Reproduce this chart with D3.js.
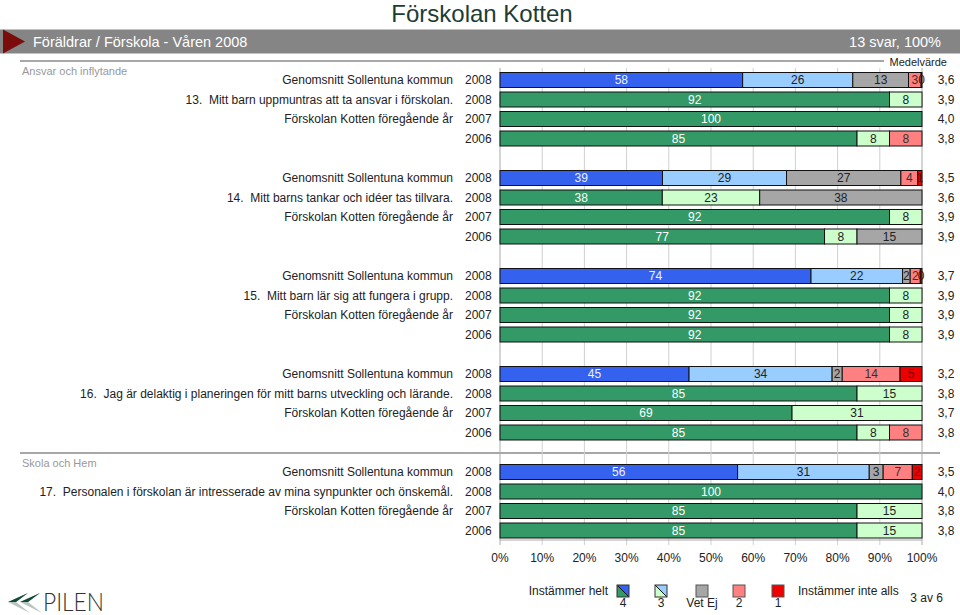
<!DOCTYPE html>
<html><head><meta charset="utf-8">
<script src="https://cdn.jsdelivr.net/npm/d3@7"></script>
<style>
html,body{margin:0;padding:0;background:#fff;}
svg{display:block;font-family:"Liberation Sans",Arial,Helvetica,sans-serif;}
</style></head>
<body>
<svg id="c" width="960" height="615"></svg>
<script>
// ---- data ----
const questions = [
  "13.  Mitt barn uppmuntras att ta ansvar i förskolan.",
  "14.  Mitt barns tankar och idéer tas tillvara.",
  "15.  Mitt barn lär sig att fungera i grupp.",
  "16.  Jag är delaktig i planeringen för mitt barns utveckling och lärande.",
  "17.  Personalen i förskolan är intresserade av mina synpunkter och önskemål."
];
const sectionHeads = ["Ansvar och inflytande", null, null, null, "Skola och Hem"];
const categories = ["4", "3", "Vet Ej", "2", "1"];
const rowLabels = ["Genomsnitt Sollentuna kommun", null, "Förskolan Kotten föregående år", null];
const rowYears = ["2008", "2008", "2007", "2006"];
// values per question, per category [4, 3, Vet Ej, 2, 1] in %
const sollentuna2008 = [[57.5,26.1,13.2,3.0,0.2],[38.5,29.4,27.1,4.0,1.0],[73.7,21.7,1.8,2.4,0.4],[44.8,33.9,2.4,13.7,5.2],[56.3,31.2,3.3,6.9,2.3]];
const kotten2008 = [[92.3,7.7,0,0,0],[38.46,23.08,38.46,0,0],[92.3,7.7,0,0,0],[84.6,15.4,0,0,0],[100,0,0,0,0]];
const kotten2007 = [[100,0,0,0,0],[92.3,7.7,0,0,0],[92.3,7.7,0,0,0],[69.2,30.8,0,0,0],[84.6,15.4,0,0,0]];
const kotten2006 = [[84.6,7.7,0,7.7,0],[76.9,7.7,15.4,0,0],[92.3,7.7,0,0,0],[84.6,7.7,0,7.7,0],[84.6,15.4,0,0,0]];
const meanSollentuna = [3.6,3.5,3.7,3.2,3.5];
const mean2008 = [3.9,3.6,3.9,3.8,4.0];
const mean2007 = [4.0,3.9,3.9,3.7,3.8];
const mean2006 = [3.8,3.9,3.9,3.8,3.8];
const xTicks = [0,10,20,30,40,50,60,70,80,90,100];

// ---- styles ----
const colSoll = ["#3462ee","#99ccff","#a6a6a6","#ff8080","#ee0000"];
const colKott = ["#339966","#ccffcc","#a6a6a6","#ff8080","#ee0000"];
const txtSoll = ["#f0f0ff","#222","#222","#333","#600"];
const txtKott = ["#ffffff","#222","#222","#333","#600"];

const svg = d3.select("#c");
const fmt = v => d3.format(".1f")(v).replace(".", ",");

// header
svg.append("text").attr("x",482).attr("y",22).attr("text-anchor","middle")
  .attr("font-size",24).attr("fill","#1d3d33").text("Förskolan Kotten");
svg.append("rect").attr("x",0).attr("y",29.5).attr("width",960).attr("height",24).attr("fill","#858585");
svg.append("path").attr("d","M3,29.5 L25,41.5 L3,53.5 Z").attr("fill","#7a0c0c");
svg.append("text").attr("x",33).attr("y",46.5).attr("font-size",14.5).attr("fill","#fff").text("Föräldrar / Förskola - Våren 2008");
svg.append("text").attr("x",941).attr("y",46.5).attr("text-anchor","end").attr("font-size",14.5).attr("fill","#fff").text("13 svar, 100%");

// scales
const x = d3.scaleLinear().domain([0,100]).range([500,922]);
const secY = d3.scaleBand().domain(d3.range(questions.length)).range([70.25, 70.25 + 98*questions.length]);
const rowY = d3.scaleBand().domain(d3.range(4)).range([0,78]).paddingInner(0.2308).paddingOuter(0.1154);

// separators
svg.append("line").attr("x1",20).attr("x2",884).attr("y1",61).attr("y2",61).attr("stroke","#8a8a8a").attr("stroke-width",1.5);
svg.append("text").attr("x",947).attr("y",66).attr("text-anchor","end").attr("font-size",11).attr("fill","#222").text("Medelvärde");
svg.append("line").attr("x1",20).attr("x2",940).attr("y1",453).attr("y2",453).attr("stroke","#8a8a8a").attr("stroke-width",1.5);

// grid
const gTop = 68, gBot = 540;
svg.append("g").selectAll("line").data(xTicks).join("line")
  .attr("x1",d=>x(d)).attr("x2",d=>x(d)).attr("y1",gTop).attr("y2",gBot+5)
  .attr("stroke",d=> (d===0||d===100)?"#aaa":"#d0d0d0").attr("stroke-width",1);
svg.append("line").attr("x1",x(0)).attr("x2",x(100)).attr("y1",gBot).attr("y2",gBot).attr("stroke","#aaa");
svg.append("g").selectAll("text").data(xTicks).join("text")
  .attr("x",d=>x(d)).attr("y",562).attr("text-anchor","middle").attr("font-size",12).attr("fill","#222")
  .text(d=>d+"%");

// section heads
sectionHeads.forEach((h,i)=>{
  if(!h) return;
  svg.append("text").attr("x",22).attr("y", i===0?75:467).attr("font-size",11).attr("fill","#999").text(h);
});

const rowsData = [sollentuna2008, kotten2008, kotten2007, kotten2006];
const meansData = [meanSollentuna, mean2008, mean2007, mean2006];

questions.forEach((q,qi)=>{
  const g = svg.append("g");
  for(let r=0;r<4;r++){
    const top = secY(qi) + rowY(r);
    const h = rowY.bandwidth();
    const cy = top + h/2;
    const label = r===1 ? q : rowLabels[r];
    if(label){
      g.append("text").attr("x",453).attr("y",cy+4.3).attr("text-anchor","end")
        .attr("font-size",12).attr("fill","#222").style("white-space","pre").text(label);
    }
    g.append("text").attr("x",465).attr("y",cy+4.3).attr("font-size",12).attr("fill","#222").text(rowYears[r]);
    const vals = rowsData[r][qi];
    const cols = r===0 ? colSoll : colKott;
    const tcols = r===0 ? txtSoll : txtKott;
    let cum = 0;
    const segs = vals.map((v,ci)=>{ const s={v, ci, x0:cum, x1:cum+v}; cum+=v; return s; }).filter(s=>s.v>0);
    g.selectAll(null).data(segs).join("rect")
      .attr("x",s=>x(s.x0)).attr("y",top).attr("width",s=>x(s.x1)-x(s.x0)).attr("height",h)
      .attr("fill",s=>cols[s.ci]).attr("stroke","#111").attr("stroke-width",1);
    g.selectAll(null).data(segs).join("text")
      .attr("x",s=>(x(s.x0)+x(s.x1))/2).attr("y",cy+4.3).attr("text-anchor","middle")
      .attr("font-size",12).attr("fill",s=>tcols[s.ci]).text(s=>Math.round(s.v));
    g.append("text").attr("x",946).attr("y",cy+4.3).attr("text-anchor","middle")
      .attr("font-size",12).attr("fill","#222").text(fmt(meansData[r][qi]));
  }
});

// legend
const legX = [623, 661, 702, 739, 778];
const lg = svg.append("g");
svg.append("text").attr("x",608).attr("y",595).attr("text-anchor","end").attr("font-size",12).attr("fill","#222").text("Instämmer helt");
svg.append("text").attr("x",798).attr("y",595).attr("font-size",12).attr("fill","#222").text("Instämmer inte alls");
svg.append("text").attr("x",943).attr("y",602).attr("text-anchor","end").attr("font-size",12).attr("fill","#222").text("3 av 6");
categories.forEach((c,i)=>{
  const cx = legX[i], s=12, x0=cx-6, y0=585;
  if(i<2){
    lg.append("path").attr("d",`M${x0},${y0} L${x0+s},${y0+s} L${x0},${y0+s} Z`).attr("fill",colKott[i]);
    lg.append("path").attr("d",`M${x0},${y0} L${x0+s},${y0} L${x0+s},${y0+s} Z`).attr("fill",colSoll[i]);
    lg.append("line").attr("x1",x0).attr("y1",y0).attr("x2",x0+s).attr("y2",y0+s).attr("stroke","#111");
    lg.append("rect").attr("x",x0).attr("y",y0).attr("width",s).attr("height",s).attr("fill","none").attr("stroke","#333");
  } else {
    lg.append("rect").attr("x",x0).attr("y",y0).attr("width",s).attr("height",s).attr("fill",colKott[i]).attr("stroke","#555");
  }
  lg.append("text").attr("x",cx).attr("y",607).attr("text-anchor","middle").attr("font-size",12).attr("fill","#222").text(c);
});

// logo
const logo = svg.append("g");
logo.append("path").attr("d","M8,602 L28,593 L16,602 L30,613 Z").attr("fill","#b8c4c0");
logo.append("path").attr("d","M8,602 L28,593 L16,602 Z").attr("fill","#0f4a36");
logo.append("path").attr("d","M20,602 L40,593 L28,602 L42,613 Z").attr("fill","#b8c4c0");
logo.append("path").attr("d","M20,602 L40,593 L28,602 Z").attr("fill","#0f4a36");
logo.append("text").attr("x",43).attr("y",611).attr("font-size",25).attr("font-family","Lato, 'Open Sans', sans-serif")
  .attr("font-weight",300).attr("fill","#333").attr("textLength",61).attr("lengthAdjust","spacingAndGlyphs").text("PILEN");
</script>
</body></html>
